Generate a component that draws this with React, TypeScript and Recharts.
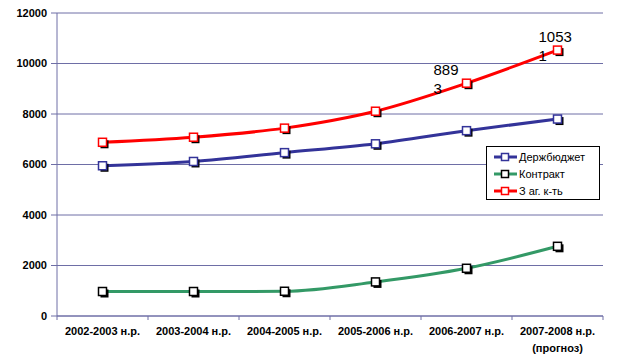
import React from 'react';
import { ComposedChart, Line, XAxis, YAxis, CartesianGrid, Legend } from 'recharts';

const categories = ['2002-2003 н.р.', '2003-2004 н.р.', '2004-2005 н.р.', '2005-2006 н.р.', '2006-2007 н.р.', '2007-2008 н.р.'];
const categoryNotes = ['', '', '', '', '', '(прогноз)'];
const derzhbudzhet = [5950, 6120, 6470, 6820, 7340, 7800];
const kontrakt = [970, 970, 980, 1350, 1890, 2760];
const zagKt = [6880, 7080, 7440, 8110, 9220, 10531];
const zagKtLabels: (string[] | null)[] = [null, null, null, null, ['889', '3'], ['1053', '1']];
const yTicks = [0, 2000, 4000, 6000, 8000, 10000, 12000];
const seriesNames = ['Держбюджет', 'Контракт', 'З аг. к-ть'];

const data = categories.map((c, i) => ({
  name: c,
  d: derzhbudzhet[i],
  k: kontrakt[i],
  z: zagKt[i],
}));

const FONT = '"Liberation Sans", Arial, sans-serif';
const GRID = '#6E6EA6';
const BLUE = '#333399';
const GREEN = '#339966';
const RED = '#FF0000';

const legendItems = [
  { name: seriesNames[0], color: BLUE, marker: BLUE },
  { name: seriesNames[1], color: GREEN, marker: '#000000' },
  { name: seriesNames[2], color: RED, marker: RED },
];

const labelDx: Record<number, number> = { 4: -33, 5: -19 };

const makeDot = (stroke: string) => (props: any) => {
  const { cx, cy, index } = props;
  if (cx == null || cy == null) return <g key={`dot-${index}`} />;
  return (
    <g key={`dot-${index}`}>
      <rect x={cx - 2} y={cy - 2} width={8} height={8} fill="#000" />
      <rect x={cx - 4} y={cy - 4} width={8} height={8} fill="#fff" stroke={stroke} strokeWidth={1.5} />
    </g>
  );
};

const XTick = (props: any) => {
  const { x, y, payload, index } = props;
  const half = payload && typeof payload.offset === 'number' && payload.offset > 0 ? payload.offset : 45.5;
  const note = categoryNotes[index];
  const isLast = index === categories.length - 1;
  return (
    <g>
      <line x1={x - half} x2={x - half} y1={y - 4} y2={y} stroke={GRID} />
      {isLast && <line x1={x + half} x2={x + half} y1={y - 4} y2={y} stroke={GRID} />}
      <text x={x} y={y + 15} textAnchor="middle" fontFamily={FONT} fontSize={11} fontWeight="bold" fill="#000">
        {payload.value}
      </text>
      {note && (
        <text x={x} y={y + 32} textAnchor="middle" fontFamily={FONT} fontSize={11} fontWeight="bold" fill="#000">
          {note}
        </text>
      )}
    </g>
  );
};

const RedLabel = (props: any) => {
  const { x, y, index } = props;
  const lines = zagKtLabels[index];
  if (!lines || x == null || y == null) return null;
  const dx = labelDx[index] ?? -25;
  return (
    <text x={x + dx} y={y - 8} fontFamily={FONT} fontSize={15} fill="#000">
      {lines.map((l, i) => (
        <tspan key={i} x={x + dx} dy={i === 0 ? 0 : 19}>{l}</tspan>
      ))}
    </text>
  );
};

const LegendBox = () => (
  <div
    style={{
      position: 'relative',
      width: 114,
      height: 54,
      border: '1px solid #000',
      background: '#fff',
      boxSizing: 'border-box',
      fontFamily: FONT,
      fontSize: 11,
      color: '#000',
    }}
  >
    {legendItems.map((it, i) => (
      <div
        key={it.name}
        style={{ position: 'absolute', left: 0, top: 3 + 17 * i, height: 14, display: 'flex', alignItems: 'center', whiteSpace: 'nowrap' }}
      >
        <svg width={32} height={14} style={{ display: 'block' }}>
          <line x1={7} x2={30} y1={7} y2={7} stroke={it.color} strokeWidth={3} />
          <rect x={14.5} y={3.5} width={7} height={7} fill="#fff" stroke={it.marker} strokeWidth={1.5} />
        </svg>
        <span style={{ lineHeight: '14px' }}>{it.name}</span>
      </div>
    ))}
  </div>
);

export default function App() {
  return (
    <div style={{ position: 'absolute', left: 0, top: 0, width: 625, height: 363, background: '#fff' }}>
      <ComposedChart width={625} height={363} data={data} margin={{ top: 13, right: 22, bottom: 17, left: 0 }}>
        <CartesianGrid horizontal vertical={false} stroke={GRID} strokeWidth={1} />
        <XAxis
          dataKey="name"
          scale="band"
          interval={0}
          height={30}
          tickSize={4}
          tickMargin={0}
          tickLine={false}
          axisLine={{ stroke: GRID }}
          tick={<XTick />}
        />
        <YAxis
          domain={[0, 12000]}
          ticks={yTicks}
          interval={0}
          width={57}
          tickSize={6}
          tickMargin={4}
          axisLine={{ stroke: GRID }}
          tickLine={{ stroke: GRID }}
          tick={{ fontFamily: FONT, fontSize: 11, fontWeight: 'bold', fill: '#000' }}
        />
        <YAxis
          yAxisId="right"
          orientation="right"
          width={0}
          tick={false}
          tickLine={false}
          axisLine={{ stroke: GRID }}
          domain={[0, 12000]}
        />
        <Legend
          layout="vertical"
          align="center"
          verticalAlign="middle"
          wrapperStyle={{ position: 'absolute', left: 486, top: 146, width: 114, height: 54 }}
          content={() => <LegendBox />}
        />
        <Line
          type="monotone"
          dataKey="d"
          name={seriesNames[0]}
          stroke={BLUE}
          strokeWidth={3}
          dot={makeDot(BLUE)}
          activeDot={false}
          isAnimationActive={false}
        />
        <Line
          type="monotone"
          dataKey="k"
          name={seriesNames[1]}
          stroke={GREEN}
          strokeWidth={3}
          dot={makeDot('#000000')}
          activeDot={false}
          isAnimationActive={false}
        />
        <Line
          type="monotone"
          dataKey="z"
          name={seriesNames[2]}
          stroke={RED}
          strokeWidth={3}
          dot={makeDot(RED)}
          activeDot={false}
          isAnimationActive={false}
          label={<RedLabel />}
        />
      </ComposedChart>
    </div>
  );
}
